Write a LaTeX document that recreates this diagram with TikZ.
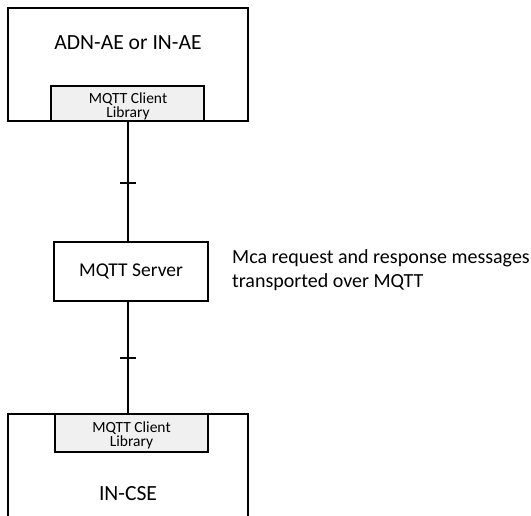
\documentclass[tikz,border=0pt]{standalone}
\usepackage{fontspec}
\setmainfont{Carlito}
\begin{document}
\begin{tikzpicture}[x=1pt,y=-1pt,
  box/.style={draw=black,line width=1.2pt},
  lib/.style={draw=black,line width=1.2pt,fill=black!6},
  libtext/.style={align=center,inner sep=0pt,font=\fontsize{15.5}{14}\selectfont},
  conn/.style={draw=black,line width=1.2pt}]
\useasboundingbox (0,0) rectangle (531,516);
% top box
\draw[box] (8,8) rectangle (248,121);
\node[anchor=base] (ae) at (128,50) {\fontsize{21.6}{25}\selectfont ADN-AE or IN-AE};
\draw[lib] (51,86) rectangle (204,121);
\node[libtext] (lib1) at (128,106.5) {MQTT Client\\Library};
\coordinate (l1b) at (128,121);
% server
\draw[box] (54,242) rectangle (208,301);
\node[anchor=base] (srv) at (131,277) {\fontsize{19.5}{22}\selectfont MQTT Server};
\coordinate (srvt) at (128,242);
\coordinate (srvb) at (128,301);
% bottom box
\draw[box] (8,414) rectangle (248,530);
\draw[lib] (55,414) rectangle (208,452);
\node[libtext] (lib2) at (131.5,435.5) {MQTT Client\\Library};
\node[anchor=base] (cse) at (128,500) {\fontsize{21.6}{25}\selectfont IN-CSE};
\coordinate (l2t) at (128,414);
% connectors
\draw[conn] (l1b) -- (srvt);
\draw[conn] (srvb) -- (l2t);
\coordinate (t1) at (128,183);
\coordinate (t2) at (128,358);
\draw[conn] ([xshift=-8pt]t1) -- ([xshift=8pt]t1);
\draw[conn] ([xshift=-8pt]t2) -- ([xshift=8pt]t2);
% label
\node[anchor=base west,inner sep=0pt] (lbl1) at (232,264) {\fontsize{20}{24}\selectfont Mca request and response messages};
\node[anchor=base west,inner sep=0pt] (lbl2) at (232,288) {\fontsize{20}{24}\selectfont transported over MQTT};
\end{tikzpicture}
\end{document}
